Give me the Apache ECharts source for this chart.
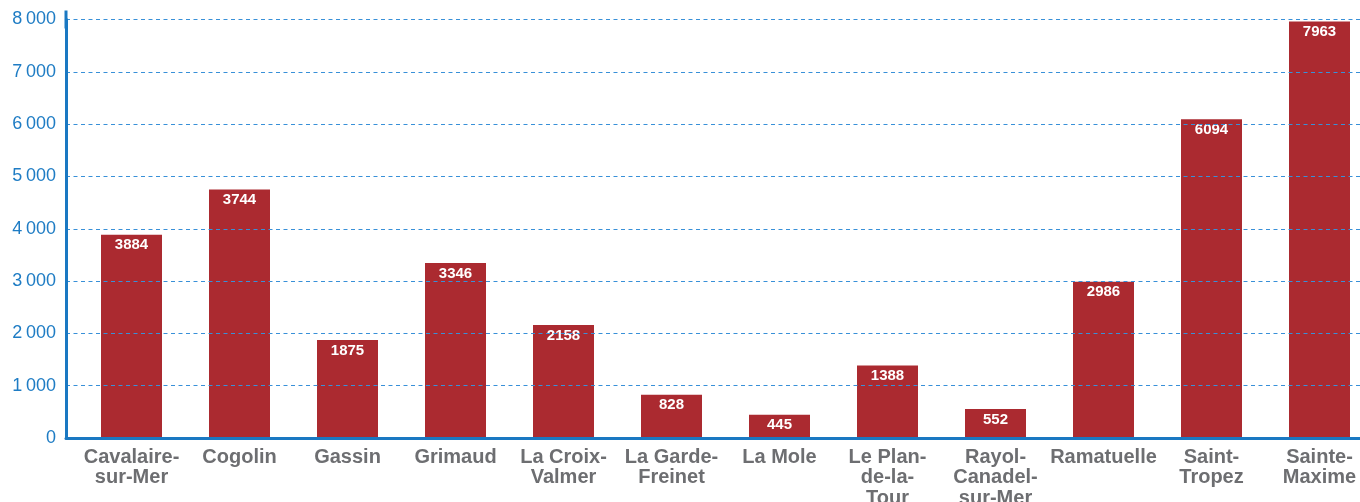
<!DOCTYPE html>
<html>
<head>
<meta charset="utf-8">
<script src="https://cdn.jsdelivr.net/npm/echarts@6/dist/echarts.min.js"></script>
<style>
html,body{margin:0;padding:0;background:#fff;}
#c{width:1360px;height:502px;}
</style>
</head>
<body>
<div id="c"></div>
<script>
const categories = ["Cavalaire-\nsur-Mer", "Cogolin", "Gassin", "Grimaud", "La Croix-\nValmer", "La Garde-\nFreinet", "La Mole", "Le Plan-\nde-la-\nTour", "Rayol-\nCanadel-\nsur-Mer", "Ramatuelle", "Saint-\nTropez", "Sainte-\nMaxime"];
const barValues = [3884, 4750, 1875, 3346, 2158, 828, 445, 1388, 552, 2986, 6094, 7963];
const barLabels = ["3884", "3744", "1875", "3346", "2158", "828", "445", "1388", "552", "2986", "6094", "7963"];
const yMin = 0, yMax = 8000, yStep = 1000;

const blue = '#1a78c2';
const chart = echarts.init(document.getElementById('c'), null, {renderer: 'canvas'});
const fmt = v => String(v).replace(/\B(?=(\d{3})+(?!\d))/g, '\u2009');

chart.setOption({
  animation: false,
  backgroundColor: '#ffffff',
  grid: [
    {left: 66, right: 0, top: 19.5, bottom: 64, containLabel: false, outerBoundsMode: 'none'},
    {left: 77.5, width: 1296, top: 19.5, bottom: 64, containLabel: false, outerBoundsMode: 'none'}
  ],
  xAxis: [
    {
      gridIndex: 0, type: 'value', min: 0, max: 1, z: 5,
      axisLine: {show: true, onZero: false, lineStyle: {color: blue, width: 3}},
      axisTick: {show: false}, axisLabel: {show: false}, splitLine: {show: false}
    },
    {
      gridIndex: 1, type: 'category', data: categories,
      axisLine: {show: false}, axisTick: {show: false}, splitLine: {show: false},
      axisLabel: {
        interval: 0, margin: 9,
        color: '#6d6e71', fontFamily: 'Liberation Sans, Arial, sans-serif',
        fontWeight: 'bold', fontSize: 20, lineHeight: 20.5
      }
    }
  ],
  yAxis: [
    {
      gridIndex: 0, type: 'value', min: yMin, max: yMax, interval: yStep, z: 5,
      axisLine: {show: true, lineStyle: {color: blue, width: 3}, symbol: ['none', 'rect'], symbolSize: [3, 18]},
      axisTick: {show: false},
      axisLabel: {
        margin: 10, color: '#1e7cc4', fontSize: 18,
        fontFamily: 'Liberation Sans, Arial, sans-serif', formatter: fmt
      },
      splitLine: {show: true, lineStyle: {color: '#3890d8', width: 1, type: [4, 3.5]}}
    },
    {
      gridIndex: 1, type: 'value', min: yMin, max: yMax, interval: yStep, show: false,
      splitLine: {show: false}
    }
  ],
  series: [{
    type: 'bar',
    xAxisIndex: 1, yAxisIndex: 1,
    data: barValues,
    barWidth: 61,
    itemStyle: {color: '#ab2a30'},
    label: {
      show: true, position: 'insideTop', distance: 3,
      color: '#ffffff', fontWeight: 'bold', fontSize: 15,
      fontFamily: 'Liberation Sans, Arial, sans-serif',
      formatter: p => barLabels[p.dataIndex]
    }
  }]
});
</script>
</body>
</html>
